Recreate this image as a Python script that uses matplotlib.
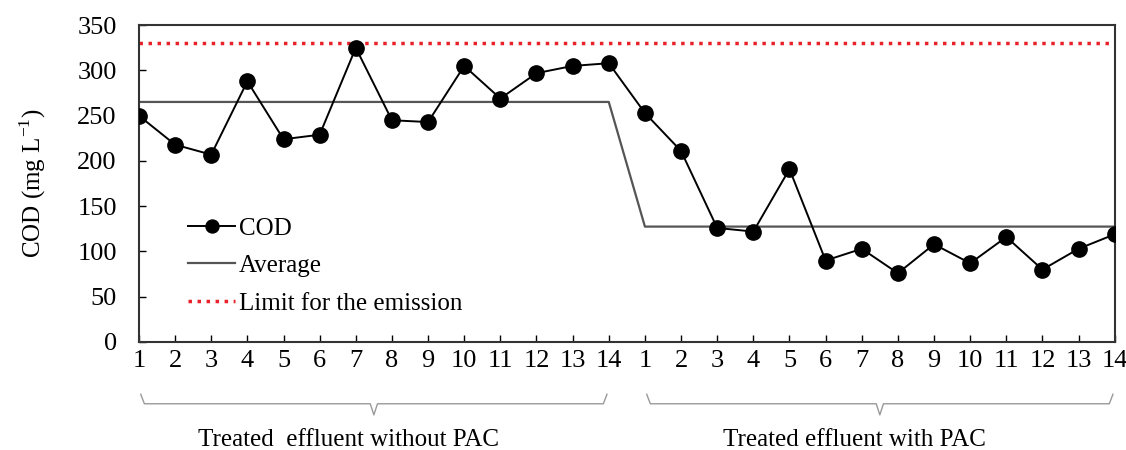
import numpy as np
import matplotlib.pyplot as plt
from matplotlib.transforms import blended_transform_factory

plt.rcParams['font.family'] = ['Liberation Serif', 'DejaVu Serif']

cod_without = [250, 218, 207, 288, 224, 229, 325, 245, 243, 305, 269, 297, 305, 308]
cod_with = [253, 211, 126, 122, 191, 90, 103, 76, 108, 87, 116, 80, 103, 119]
limit = 330
tick_labels = [str(i) for i in range(1, 15)] * 2
groups = ["Treated  effluent without PAC", "Treated effluent with PAC"]

cod = cod_without + cod_with
x = np.arange(1, len(cod) + 1)
n1 = len(cod_without)
avg1 = np.mean(cod_without)
avg2 = np.mean(cod_with)
avg = [avg1] * n1 + [avg2] * len(cod_with)

fig = plt.figure(figsize=(11.26, 4.5), dpi=100)
ax = fig.add_axes([0.1234, 0.24, 0.8666, 0.704])

ax.plot(x, avg, color='#555555', lw=1.6, label='Average', zorder=2)
ax.plot(x, cod, color='black', lw=1.4, marker='o', markersize=11, label='COD', zorder=3)
ax.axhline(limit, color='#e8212a', lw=2.5, ls=(0, (1, 1.6)), label='Limit for the emission', zorder=1)

ax.set_xlim(1, len(cod))
ax.set_ylim(0, 350)
ax.set_yticks(range(0, 351, 50))
ax.set_xticks(x)
ax.set_xticklabels(tick_labels)
ax.tick_params(direction='in', labelsize=19, length=5, width=1)
ax.tick_params(axis='x', pad=6)
ax.tick_params(axis='y', pad=16)
for s in ax.spines.values():
    s.set_linewidth(1.5)
    s.set_color('#333333')
ax.set_ylabel('COD (mg L$^{\\mathregular{-1}}$)', fontsize=18, labelpad=21)

h, l = ax.get_legend_handles_labels()
order = [1, 0, 2]
ax.legend([h[i] for i in order], [l[i] for i in order], loc='lower left',
          bbox_to_anchor=(0.027, 0.015), frameon=False, fontsize=18,
          handlelength=1.9, handletextpad=0.15, labelspacing=0.6, markerscale=0.85)

# braces under the group tick labels
tr = blended_transform_factory(ax.transData, ax.transAxes)
yb = -0.195
for (a, b), name in zip([(1, n1), (n1 + 1, len(cod))], groups):
    a2, b2 = a + 0.05, b - 0.05
    mid = (a + b) / 2
    xs = [a2, a2 + 0.1, mid - 0.1, mid, mid + 0.1, b2 - 0.1, b2]
    ys = [yb + 0.03, yb, yb, yb - 0.035, yb, yb, yb + 0.03]
    ax.plot(xs, ys, color='#999999', lw=1, transform=tr, clip_on=False)
    ax.text(mid - 0.7, -0.31, name, transform=tr, ha='center', va='center', fontsize=18)

fig.savefig('out.png', dpi=100)
